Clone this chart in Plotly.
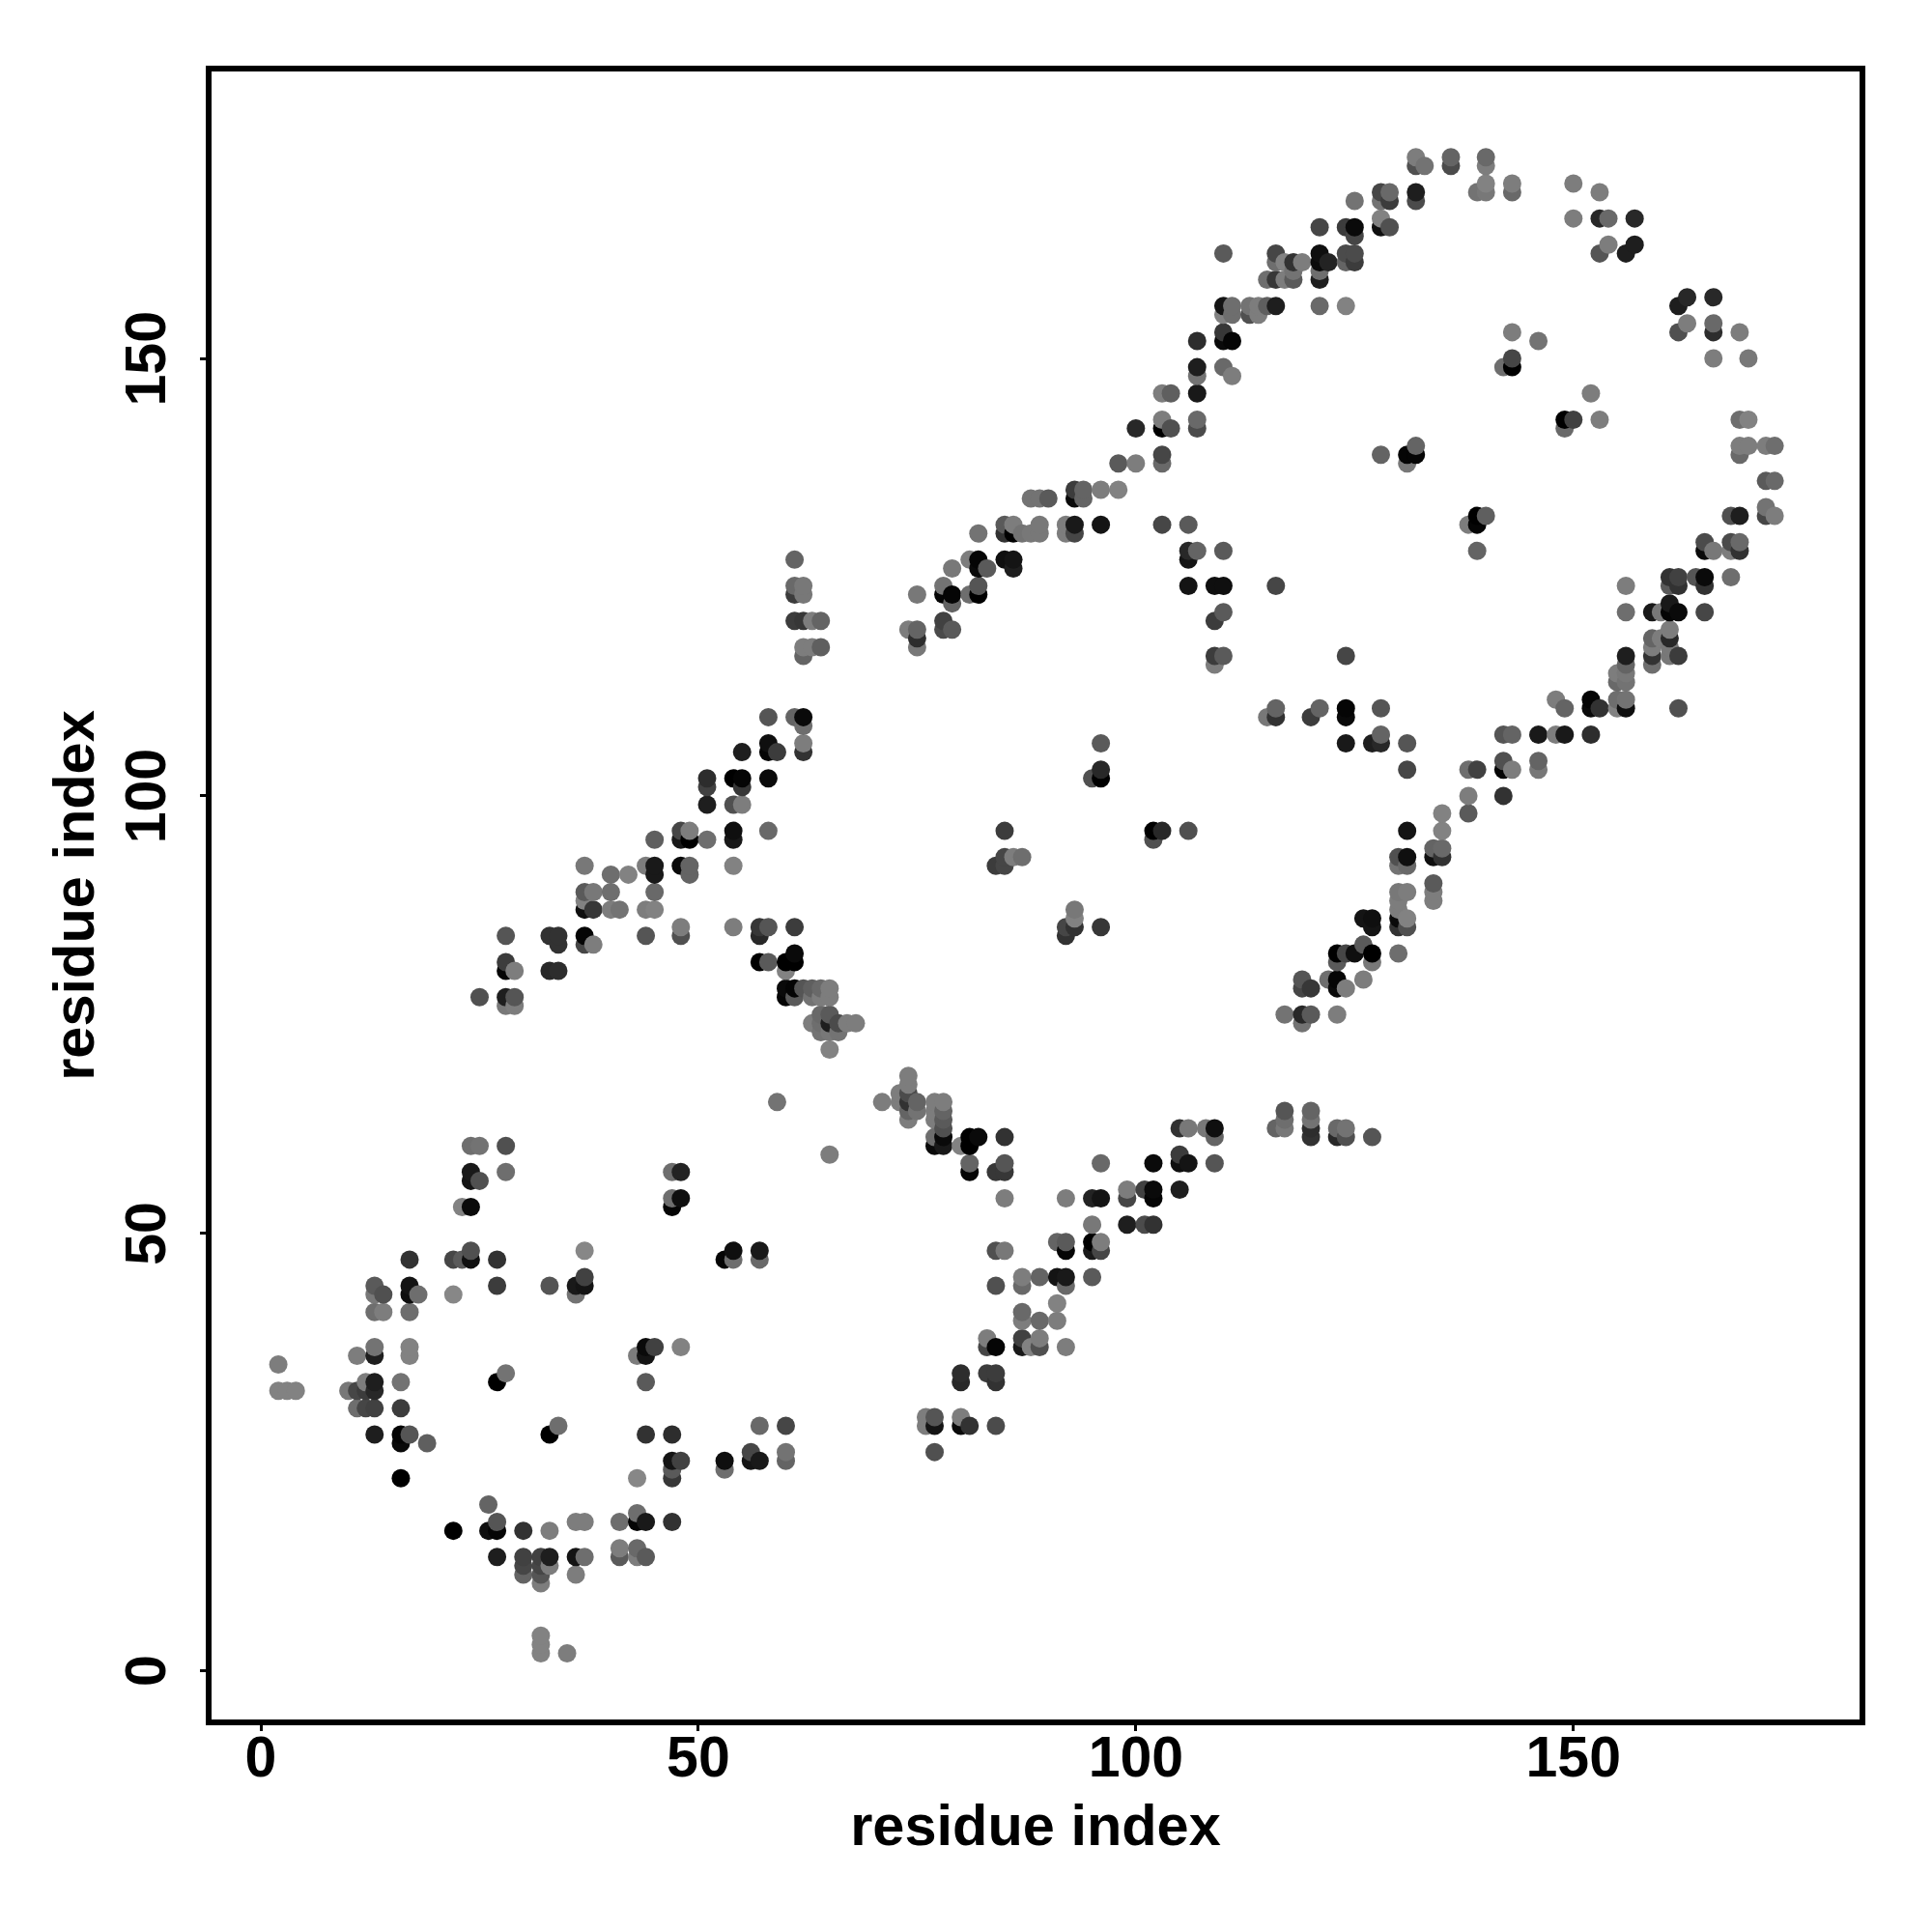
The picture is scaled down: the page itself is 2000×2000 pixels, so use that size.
import plotly.graph_objects as go
import numpy as np

tick_values = [0, 50, 100, 150]
axis_label = "residue index"

row_y = [2, 3, 4, 10, 11, 12, 13, 14, 16, 17, 18, 19, 22, 23, 24, 25, 26, 27, 28, 29,
         30, 32, 33, 34, 35, 36, 37, 38, 40, 41, 42, 43, 44, 45, 47, 48, 49, 51, 53, 54,
         55, 56, 57, 58, 59, 60, 61, 62, 63, 64, 65, 66, 67, 68, 71, 73, 74, 75, 76, 77,
         78, 79, 80, 81, 82, 83, 84, 85, 86, 87, 88, 89, 90, 91, 92, 93, 94, 95, 96, 98,
         99, 100, 101, 102, 103, 104, 105, 106, 107, 108, 109, 110, 111, 113, 114, 115, 116, 117, 118, 119,
         120, 121, 122, 123, 124, 125, 126, 127, 128, 129, 130, 131, 132, 133, 134, 135, 136, 138, 139, 140,
         142, 143, 146, 148, 149, 150, 152, 153, 154, 155, 156, 157, 159, 160, 161, 162, 163, 164, 165, 166,
         168, 169, 170, 172, 173]

row_x = [
    [32, 35], [32], [32], [32], [30, 32, 36], [30, 32, 33],
    [27, 30, 32, 33, 36, 37, 41, 43, 44], [41, 43], [22, 26, 27, 30, 33],
    [27, 36, 37, 41, 43, 44, 47], [43], [26], [16, 43, 47], [47, 53],
    [47, 48, 53, 56, 57, 60], [56, 60, 77], [16, 19], [13, 16, 17, 33, 44, 47],
    [34, 57, 60, 76, 77, 80, 81, 84], [76, 77, 80],
    [11, 12, 13, 16], [2, 3, 4, 10, 11, 12, 13], [12, 13, 16, 27, 44, 80, 84],
    [28, 80, 83, 84], [2], [11, 13, 17, 43, 44],
    [13, 17, 44, 45, 48, 83, 84, 87, 88, 89, 92], [83, 87, 89], [87, 89, 91],
    [13, 14, 17, 87], [91], [13, 14, 17, 18, 22, 36],
    [13, 17, 27, 33, 36, 37, 84, 87, 92], [37, 87, 89, 91, 92, 95],
    [17, 22, 23, 24, 27, 53, 54, 57], [24, 37, 54, 57, 84, 85, 92, 95, 96],
    [91, 92, 95, 96], [95, 99, 101, 102], [23, 24, 47],
    [47, 48, 85, 92, 95, 96, 99, 102],
    [99, 101, 102, 105], [24, 25], [24, 28, 47, 48, 81, 84, 85],
    [81, 85, 96, 102, 105, 106, 109], [65, 105], [24, 25, 28, 77, 78, 80, 81],
    [77, 78, 81, 82, 85, 109, 120, 123, 124, 127],
    [78, 105, 106, 108, 109, 116, 117, 120, 123, 124], [74, 77, 78, 117, 120],
    [74, 75, 77, 78, 117, 120], [59, 71, 73, 74, 75, 77, 78], [73, 74], [74], [74],
    [65], [64, 65, 66], [63, 64, 65, 66, 67, 68, 119], [64, 65, 117, 119, 120, 123],
    [28, 29], [25, 28, 29, 60, 61, 63, 64, 65],
    [60, 61, 62, 63, 64, 65, 119, 120, 123, 124], [119, 122, 123, 126],
    [28, 29, 33, 34, 60], [28, 57, 58, 60, 61, 123, 127], [61, 123, 124, 125, 127, 130],
    [34, 37, 38, 126], [28, 33, 34, 37, 44, 48, 57, 92],
    [48, 54, 57, 58, 61, 92, 93, 96, 127, 130, 131], [93, 126, 127, 130, 131],
    [37, 38, 40, 41, 44, 45, 93, 130], [37, 130, 134], [37, 38, 40, 45, 130, 131, 134],
    [134], [40, 42, 45, 49], [37, 44, 45, 48, 49, 54, 84, 85, 130, 131],
    [85, 86, 87, 130, 131, 134, 135], [134, 135], [45, 48, 49, 51, 54, 102],
    [48, 49, 54, 58, 85, 102, 103, 106, 131, 135], [135, 138],
    [51, 54, 55], [138, 142], [51, 55], [51, 54, 55, 58, 95, 96],
    [96, 131, 138, 139, 142, 143, 146], [142, 146], [55, 58, 59, 62],
    [58, 62, 96, 124, 127, 128, 131], [128, 142, 143, 146, 148, 149, 152], [62],
    [58, 61, 62, 115, 116, 120, 124],
    [116, 121, 124, 128, 149, 152, 153, 155, 156, 162], [148, 152, 155, 156],
    [155, 156], [155, 156], [109, 156, 159],
    [62, 109, 110, 124, 156, 159, 161, 162], [62, 63, 64, 75, 159, 161],
    [75, 159, 160, 161], [74, 75, 78, 79, 161],
    [61, 62, 63, 64, 78, 109], [110, 156, 159, 160, 161, 162, 165], [79, 161],
    [61, 62, 75, 78, 79, 81, 82],
    [61, 62, 78, 82, 106, 109, 110, 116, 156, 161, 162, 165],
    [161, 162, 164, 165, 168], [79, 82, 83, 86], [61, 81, 82, 85, 86, 106],
    [106, 107, 110, 139, 165, 166, 168, 169], [165, 168, 169],
    [82, 85, 86, 87, 88, 89, 92, 93], [85, 86, 89, 92, 93, 96, 103, 106, 138, 139],
    [139, 140, 168, 169, 172, 173], [172], [88, 89, 90, 93, 94], [93, 94, 96, 98],
    [172, 173], [98, 100, 103, 131], [103, 128, 131, 132, 169],
    [132, 169, 170, 172, 173],
    [100, 103, 104, 107, 149], [103, 107, 149, 150, 153, 169, 170],
    [103, 104, 107, 152], [107, 111], [107, 110, 142, 143], [143, 166, 170],
    [107, 110, 111, 146], [110, 143, 162, 166, 169], [163, 166], [110, 111, 113, 114],
    [110, 111, 113, 114, 115, 116, 121, 124, 162], [163, 166],
    [115, 116, 117, 118, 121], [118, 121], [116, 117, 118, 119, 121, 122, 124, 125],
    [110, 116, 121, 124, 125, 153, 156], [154, 157], [125],
    [121, 124, 125, 128, 129], [128, 150, 153, 154, 157],
    [125, 128, 129, 132], [128, 129, 132, 139, 140, 143, 153], [140, 143, 150],
    [132, 133, 136, 140], [132, 136, 140],
]

row_shade = [
    [130, 125], [130], [130], [125], [100, 85, 125], [70, 70, 125],
    [30, 65, 65, 30, 20, 110, 90, 125, 90], [125, 105], [0, 15, 5, 50, 125],
    [85, 125, 125, 110, 5, 25, 50], [110], [100], [0, 135, 55], [90, 110],
    [20, 65, 15, 20, 25, 100], [70, 115, 80], [10, 95], [30, 5, 85, 0, 50, 45],
    [110, 105, 70, 125, 20, 10, 50, 75], [125, 85, 125],
    [110, 70, 65, 60], [130, 130, 130, 120, 70, 60, 40], [125, 30, 115, 0, 90, 40, 50],
    [115, 45, 60, 60], [125], [125, 30, 130, 125, 20],
    [115, 130, 10, 65, 130, 70, 5, 25, 130, 80, 125], [125, 65, 125], [125, 105, 125],
    [110, 125, 110, 105], [130], [120, 80, 15, 110, 135, 115],
    [90, 20, 60, 85, 25, 20, 80, 105, 105], [65, 125, 100, 20, 25, 90],
    [50, 70, 90, 15, 50, 5, 110, 105], [80, 135, 15, 25, 80, 120, 5, 25, 70],
    [100, 90, 0, 125], [120, 30, 75, 50], [130, 10, 5],
    [110, 15, 125, 125, 35, 20, 70, 5],
    [125, 65, 10, 30], [20, 80], [25, 110, 110, 35, 5, 55, 55],
    [100, 85, 105, 10, 15, 20, 85], [125, 60], [110, 115, 80, 10, 25, 130, 0],
    [110, 10, 0, 10, 50, 100, 50, 40, 80, 85],
    [80, 50, 120, 120, 15, 100, 120, 45, 105, 115], [125, 125, 90, 110, 115],
    [100, 115, 125, 100, 85, 100], [115, 125, 125, 50, 100, 125, 125], [125, 75], [125], [125],
    [130], [115, 120, 115], [125, 110, 30, 75, 125, 125, 115], [105, 90, 115, 40, 90, 125],
    [120, 125], [80, 30, 85, 5, 90, 115, 125, 125],
    [10, 5, 85, 95, 105, 125, 70, 55, 10, 125], [85, 110, 5, 125],
    [5, 125, 40, 45, 130], [60, 0, 90, 0, 0, 90, 120], [10, 0, 70, 15, 0, 110],
    [50, 70, 125, 90], [85, 50, 50, 5, 85, 80, 40, 50],
    [125, 125, 55, 85, 60, 70, 50, 55, 20, 50, 80], [130, 20, 15, 10, 130],
    [15, 55, 125, 115, 125, 130, 120, 125], [130, 125, 125], [90, 120, 110, 105, 120, 125, 125],
    [90], [110, 130, 25, 100], [120, 125, 25, 10, 100, 130, 60, 70, 115, 105],
    [70, 125, 110, 80, 15, 15, 50], [100, 105], [95, 25, 0, 110, 25, 80],
    [70, 125, 15, 105, 60, 0, 40, 80, 20, 130], [130, 90],
    [30, 80, 125], [125, 50], [65, 55], [45, 0, 5, 10, 80, 0],
    [40, 70, 110, 65, 5, 125, 120], [80, 100], [30, 5, 60, 50],
    [15, 125, 90, 25, 30, 40, 85], [100, 85, 100, 25, 125, 25, 45], [110],
    [85, 100, 10, 120, 50, 60, 10],
    [100, 100, 5, 85, 100, 10, 50, 130, 15, 80], [125, 5, 110, 115],
    [105, 115], [125, 120], [125, 100, 110],
    [100, 60, 90, 70, 30, 50, 120, 60], [125, 125, 95, 120, 125, 120],
    [45, 100, 125, 40], [125, 100, 75, 90, 125],
    [60, 55, 125, 100, 65, 60], [90, 110, 25, 120, 5, 10, 70], [100, 25],
    [60, 120, 120, 5, 5, 110, 0],
    [105, 120, 115, 85, 20, 15, 15, 70, 125, 90, 50, 50],
    [50, 65, 85, 10, 110], [120, 10, 90, 30], [100, 125, 5, 15, 20, 20],
    [40, 100, 90, 100, 10, 120, 125, 50], [75, 75, 105],
    [115, 50, 0, 115, 120, 120, 125, 70], [90, 125, 120, 125, 25, 20, 70, 90, 125, 5],
    [0, 95, 80, 30, 70, 125], [115], [115, 115, 90, 10, 100], [60, 100, 125, 130],
    [90, 105], [90, 125, 105, 120], [70, 100, 5, 5, 105],
    [100, 125, 125, 125, 110],
    [40, 0, 80, 75, 105], [125, 105, 0, 65, 125, 110, 130],
    [125, 95, 25, 125], [115, 125], [30, 105, 110, 0], [70, 125, 120],
    [45, 10, 5, 115], [55, 125, 80, 45, 125], [125, 105], [130, 110, 80, 125],
    [20, 110, 115, 125, 95, 30, 105, 130, 30], [40, 40],
    [110, 55, 125, 90, 30], [115, 110], [110, 130, 50, 125, 10, 35, 100, 60],
    [90, 70, 15, 75, 75, 85, 30], [125, 30], [70],
    [70, 60, 10, 15, 80], [130, 125, 40, 105, 40],
    [115, 115, 60, 75], [70, 105, 30, 115, 120, 105, 125], [130, 125, 125],
    [80, 115, 75, 125], [125, 100, 105],
]

xs = np.array([v for r in row_x for v in r])
ys = np.array([y for y, r in zip(row_y, row_x) for _ in r])
shades = np.array([v for r in row_shade for v in r])
order = np.lexsort((ys, xs))

font_family = "Liberation Sans"

fig = go.Figure(go.Scatter(
    x=xs[order], y=ys[order], mode="markers",
    marker=dict(size=19, color=shades[order], cmin=0, cmax=255,
                colorscale=[[0, "#000000"], [1, "#ffffff"]], line=dict(width=0)),
    showlegend=False, hoverinfo="skip",
))

axis_common = dict(
    tickmode="array", tickvals=tick_values, ticktext=[str(v) for v in tick_values],
    showgrid=False, zeroline=False, showline=True, mirror=True, linecolor="black", linewidth=5.5,
    ticks="outside", ticklen=6, tickwidth=2.5, tickcolor="black",
    tickfont=dict(family=font_family, size=59, color="black", weight=700),
    automargin=False,
)
title_font = dict(family=font_family, size=59.5, color="black", weight=700)

fig.update_xaxes(range=[-5.63, 182.7], ticklabelstandoff=-24, **axis_common,
                 title=dict(text=axis_label, standoff=20, font=title_font))
fig.update_yaxes(range=[-5.57, 182.8], tickangle=-90, ticklabelstandoff=13, ticklabelshift=9,
                 **axis_common,
                 title=dict(text=axis_label, standoff=3, font=title_font))

fig.update_layout(width=2000, height=2000, autosize=False,
                  margin=dict(l=219, r=74.5, t=73.5, b=220, pad=0),
                  paper_bgcolor="white", plot_bgcolor="white")

fig.write_html("out.html", config={"displayModeBar": False},
               post_script="document.body.style.margin='0';")
